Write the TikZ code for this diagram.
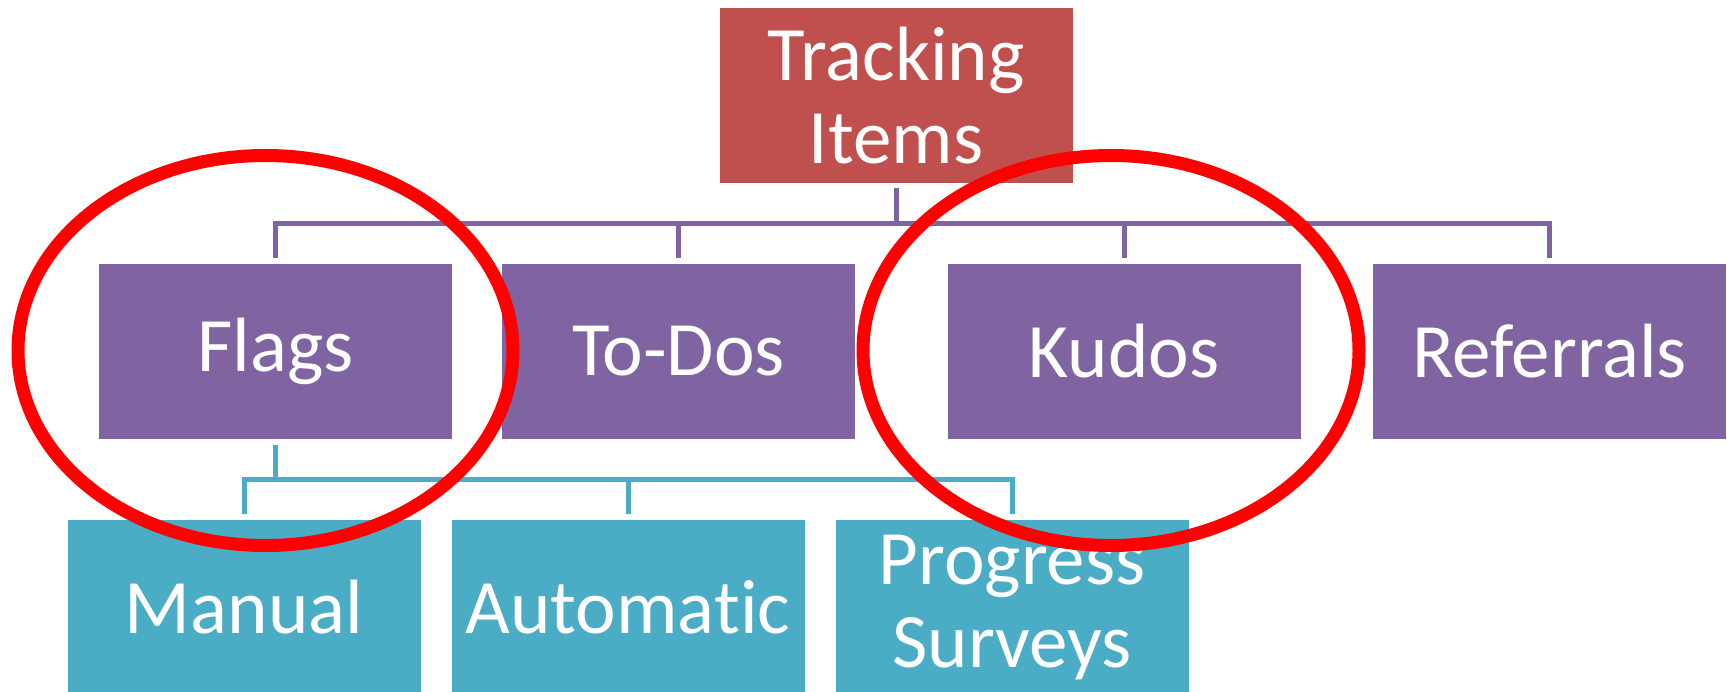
\documentclass[tikz,border=0pt]{standalone}
\usepackage{fontspec}
\setmainfont{Carlito}[Ligatures={NoCommon,NoContextual}]
\usepackage{tikz}
\usetikzlibrary{shapes}
\usetikzlibrary{positioning}
\usepackage{xcolor}
\definecolor{trackred}{HTML}{C0504D}
\definecolor{itempurple}{HTML}{8064A2}
\definecolor{subcyan}{HTML}{4BACC6}
\tikzset{
  itembox/.style={minimum width=353pt, minimum height=175pt, inner sep=0pt, text=white, align=center, font=\fontsize{77}{83}\selectfont},
  purpleline/.style={draw=itempurple, line width=5pt},
  cyanline/.style={draw=subcyan, line width=5pt},
  ring/.style={draw=red, line width=13pt}
}

\begin{document}
\begin{tikzpicture}[x=1pt,y=1pt]
\useasboundingbox (0,0) rectangle (1727,691);
\node[itembox, fill=trackred] (track) at (896,595.5) {Tracking\\Items};
\node[itembox, fill=itempurple] (flags) at (275.5,339.5) {Flags};
\node[itembox, fill=itempurple] (todos) at (678.5,339.5) {To-Dos};
\node[itembox, fill=itempurple] (kudos) at (1124,339.5) {Kudos};
\node[itembox, fill=itempurple] (referrals) at (1549.5,339.5) {Referrals};
\node[itembox, fill=subcyan] (manual) at (244,83.5) {Manual};
\node[itembox, fill=subcyan] (automatic) at (628,83.5) {Automa\kern0ptti\kern0ptc};
\node[itembox, fill=subcyan] (progress) at (1012,83.5) {Progress\\Surveys};
\coordinate (topbar) at (0,467);
\coordinate (lowbar) at (0,211);
\foreach \child in {flags,todos,kudos,referrals}
  \draw[purpleline] ([yshift=-5pt]track.south) |- (topbar -| \child.north) -- ([yshift=6pt]\child.north);
\foreach \child in {manual,automatic,progress}
  \draw[cyanline] ([yshift=-6pt]flags.south) |- (lowbar -| \child.north) -- ([yshift=6pt]\child.north);
\draw[ring] (265.5,340.5) ellipse [x radius=247.5pt, y radius=195pt];
\draw[ring] (1111,340.5) ellipse [x radius=248pt, y radius=195pt];
\end{tikzpicture}
\end{document}
